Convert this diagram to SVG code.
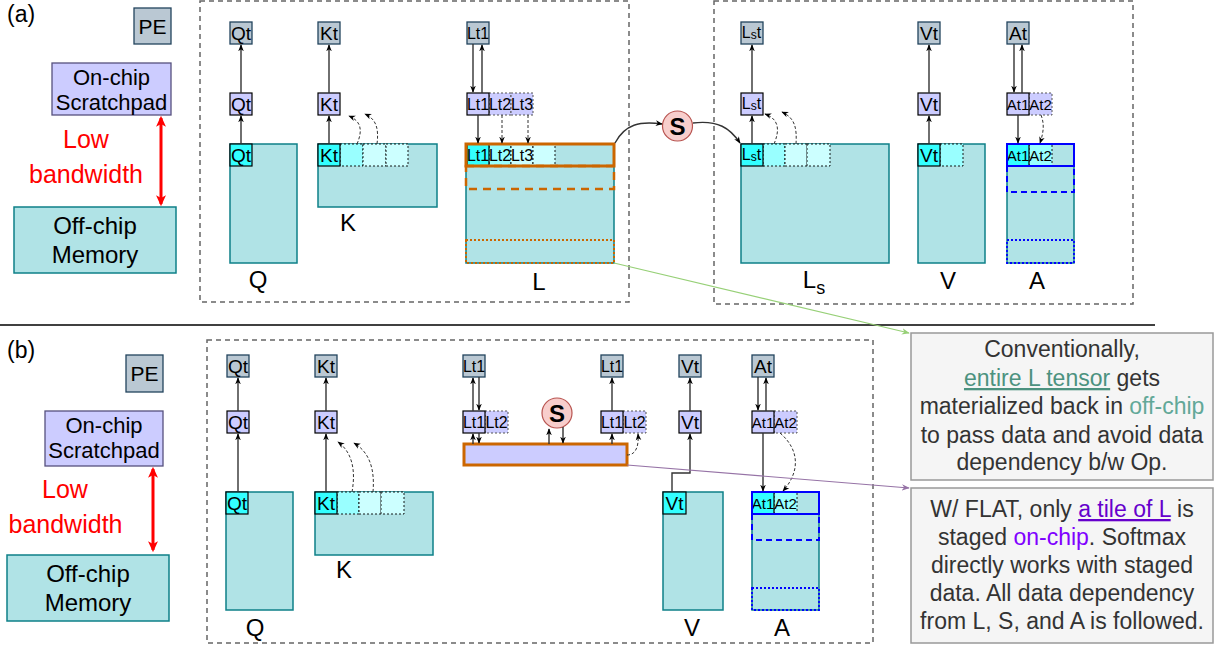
<svg xmlns="http://www.w3.org/2000/svg" width="1219" height="649" viewBox="0 0 1219 649">
<style>
text{font-family:"Liberation Sans",Arial,sans-serif;fill:#000}
.lbl{font-size:23px}
.big{font-size:24px;text-anchor:middle}
.mid{text-anchor:middle}
.tt{font-size:19px;text-anchor:middle;dominant-baseline:central}
.tl{font-size:16px;text-anchor:middle;dominant-baseline:central}
.ta{font-size:15px;text-anchor:middle;dominant-baseline:central}
.ls{font-size:16px;text-anchor:middle;dominant-baseline:central}
.box{fill:none;stroke:#666;stroke-width:1.5;stroke-dasharray:5 4}
.bt{fill:#b0e3e6;stroke:#0e8088;stroke-width:1.5}
.g{fill:#bac8d3;stroke:#23445d;stroke-width:1.3}
.p{fill:#ccccff;stroke:#000;stroke-width:1.2}
.pd{fill:#ccccff;stroke:#555;stroke-width:1;stroke-dasharray:2 2}
.c{fill:#33ffff;stroke:#000;stroke-width:1.2}
.c1{fill:#99ffff;stroke:#000;stroke-width:0.9;stroke-dasharray:2 2}
.c2{fill:#ccffff;stroke:#000;stroke-width:0.9;stroke-dasharray:2 2}
.ar{fill:none;stroke:#333;stroke-width:1.4;marker-end:url(#ah)}
.da{fill:none;stroke:#333;stroke-width:1;stroke-dasharray:3 2;marker-end:url(#ah)}
.red{fill:none;stroke:#ff0000;stroke-width:3;marker-start:url(#ahr);marker-end:url(#ahr)}
.rtxt{font-size:25px;fill:#ff0000;text-anchor:middle}
.os{fill:none;stroke:#cc6600;stroke-width:3}
.od{fill:none;stroke:#cc6600;stroke-width:2.5;stroke-dasharray:8 6}
.oo{fill:none;stroke:#cc6600;stroke-width:2;stroke-dasharray:2 2}
.bs{fill:none;stroke:#0000ff;stroke-width:2}
.bd{fill:none;stroke:#0000ff;stroke-width:2;stroke-dasharray:6 4}
.bo{fill:none;stroke:#0000ff;stroke-width:1.8;stroke-dasharray:2 2}
.sc{fill:#f8cecc;stroke:#b85450;stroke-width:1.2}
.st{font-size:24px;font-weight:bold;text-anchor:middle;dominant-baseline:central}
.note{fill:#f5f5f5;stroke:#999;stroke-width:1.5}
.nt{font-size:23px;fill:#333;text-anchor:middle}
</style>
<defs>
<marker id="ah" viewBox="0 0 10 10" refX="9" refY="5" markerWidth="7" markerHeight="7" markerUnits="userSpaceOnUse" orient="auto"><path d="M0,1 L10,5 L0,9 L3,5 z" fill="#000"/></marker>
<marker id="ahr" viewBox="0 0 10 10" refX="8" refY="5" markerWidth="11" markerHeight="11" markerUnits="userSpaceOnUse" orient="auto-start-reverse"><path d="M0,0.5 L10,5 L0,9.5 L2.5,5 z" fill="#ff0000"/></marker>
<marker id="ahg" viewBox="0 0 10 10" refX="9" refY="5" markerWidth="8" markerHeight="8" markerUnits="userSpaceOnUse" orient="auto"><path d="M0,1 L10,5 L0,9 L3,5 z" fill="#97d077"/></marker>
<marker id="ahp" viewBox="0 0 10 10" refX="9" refY="5" markerWidth="8" markerHeight="8" markerUnits="userSpaceOnUse" orient="auto"><path d="M0,1 L10,5 L0,9 L3,5 z" fill="#9673a6"/></marker>
</defs>

<!-- ================= (a) ================= -->
<g id="a-legend">
<text x="7" y="22" class="lbl">(a)</text>
<rect x="134" y="8" width="37" height="36" class="g"/>
<text x="152.5" y="26.5" class="tt" style="font-size:21px">PE</text>
<rect x="52" y="63" width="119" height="52" fill="#ccccff" stroke="#56517e" stroke-width="1.3"/>
<text x="111.5" y="85" class="mid" style="font-size:22px">On-chip</text>
<text x="111.5" y="110" class="mid" style="font-size:22px">Scratchpad</text>
<line x1="161" y1="118" x2="161" y2="204" class="red"/>
<text x="86" y="148" class="rtxt">Low</text>
<text x="86" y="183" class="rtxt">bandwidth</text>
<rect x="14" y="207" width="162" height="66" class="bt"/>
<text x="95" y="234" class="mid" style="font-size:24px">Off-chip</text>
<text x="95" y="263" class="mid" style="font-size:24px">Memory</text>
</g>

<g id="a-box1"><rect x="200" y="1" width="429" height="301" class="box"/></g>
<g id="a-box2"><rect x="714" y="1" width="419" height="303" class="box"/></g>

<g id="a-Q">
<rect x="230" y="144" width="67" height="119" class="bt"/>
<rect x="230" y="144" width="22" height="22" class="c"/><text x="241" y="155" class="tt">Qt</text>
<rect x="230" y="93" width="22" height="22" class="p"/><text x="241" y="104" class="tt">Qt</text>
<rect x="230" y="22" width="22" height="22" class="g"/><text x="241" y="33" class="tt">Qt</text>
<text x="258" y="288" class="big">Q</text>
</g>

<g id="a-K">
<rect x="318" y="144" width="119" height="63" class="bt"/>
<rect x="340" y="144" width="23" height="22" class="c1"/>
<rect x="363" y="144" width="23" height="22" class="c2"/>
<rect x="386" y="144" width="22" height="22" class="c2"/>
<rect x="318" y="144" width="22" height="22" class="c"/><text x="329" y="155" class="tt">Kt</text>
<rect x="318" y="93" width="22" height="22" class="p"/><text x="329" y="104" class="tt">Kt</text>
<rect x="318" y="22" width="22" height="22" class="g"/><text x="329" y="33" class="tt">Kt</text>
<text x="348" y="231" class="big">K</text>
</g>

<g id="a-L">
<rect x="466" y="144" width="148" height="119" class="bt"/>
<rect x="489" y="144" width="22" height="22" class="c1"/>
<rect x="511" y="144" width="22" height="22" class="c2"/>
<rect x="533" y="144" width="22" height="22" class="c2"/>
<rect x="467" y="144" width="22" height="22" class="c"/>
<text x="478" y="155" class="tl">Lt1</text><text x="500" y="155" class="tl">Lt2</text><text x="522" y="155" class="tl">Lt3</text>
<rect x="466" y="144" width="148" height="22" class="os"/>
<rect x="466" y="166" width="148" height="23" class="od"/>
<rect x="466" y="240" width="148" height="23" class="oo"/>
<rect x="489" y="93" width="22" height="22" class="pd"/>
<rect x="511" y="93" width="22" height="22" class="pd"/>
<rect x="467" y="93" width="22" height="22" class="p"/>
<text x="478" y="104" class="tl">Lt1</text><text x="500" y="104" class="tl">Lt2</text><text x="522" y="104" class="tl">Lt3</text>
<rect x="467" y="22" width="22" height="22" class="g"/><text x="478" y="33" class="tl">Lt1</text>
<text x="539" y="290" class="big">L</text>
</g>

<g id="a-S">
<circle cx="677.5" cy="126" r="15" class="sc"/>
<text x="677.5" y="126" class="st">S</text>
</g>

<g id="a-Ls">
<rect x="741" y="144" width="148" height="119" class="bt"/>
<rect x="763" y="144" width="22" height="22" class="c1"/>
<rect x="785" y="144" width="22" height="22" class="c2"/>
<rect x="807" y="144" width="23" height="22" class="c2"/>
<rect x="741" y="144" width="22" height="22" class="c"/>
<text x="751.5" y="154" class="ls">L<tspan style="font-size:12px" dy="3">s</tspan><tspan dy="-3">t</tspan></text>
<rect x="741" y="93" width="22" height="22" class="p"/>
<text x="751.5" y="103" class="ls">L<tspan style="font-size:12px" dy="3">s</tspan><tspan dy="-3">t</tspan></text>
<rect x="741" y="22" width="22" height="22" class="g"/>
<text x="751.5" y="32" class="ls">L<tspan style="font-size:12px" dy="3">s</tspan><tspan dy="-3">t</tspan></text>
<text x="814" y="288" class="big">L<tspan style="font-size:18px" dy="6">s</tspan></text>
</g>

<g id="a-V">
<rect x="918" y="144" width="67" height="119" class="bt"/>
<rect x="940" y="144" width="23" height="22" class="c1"/>
<rect x="918" y="144" width="22" height="22" class="c"/><text x="929" y="155" class="tt">Vt</text>
<rect x="918" y="93" width="22" height="22" class="p"/><text x="929" y="104" class="tt">Vt</text>
<rect x="918" y="22" width="22" height="22" class="g"/><text x="929" y="33" class="tt">Vt</text>
<text x="948" y="289" class="big">V</text>
</g>

<g id="a-A">
<rect x="1007" y="144" width="67" height="119" class="bt"/>
<rect x="1029" y="144" width="23" height="22" class="c1"/>
<rect x="1007" y="144" width="22" height="22" class="c"/>
<text x="1018" y="155" class="ta">At1</text><text x="1040.5" y="155" class="ta">At2</text>
<rect x="1007" y="144" width="67" height="22" class="bs"/>
<rect x="1007" y="166" width="67" height="26" class="bd"/>
<rect x="1007" y="240" width="67" height="23" class="bo"/>
<rect x="1029" y="93" width="23" height="22" class="pd"/>
<rect x="1007" y="93" width="22" height="22" class="p"/>
<text x="1018" y="104" class="ta">At1</text><text x="1040.5" y="104" class="ta">At2</text>
<rect x="1007" y="22" width="22" height="22" class="g"/><text x="1018" y="33" class="tt">At</text>
<text x="1037" y="289" class="big">A</text>
</g>

<g id="sep"><line x1="0" y1="325" x2="1155" y2="325" stroke="#000" stroke-width="1.5"/></g>

<!-- ================= (b) ================= -->
<g id="b-legend">
<text x="7" y="358" class="lbl">(b)</text>
<rect x="126" y="355" width="37" height="37" class="g"/>
<text x="144.5" y="373.5" class="tt" style="font-size:21px">PE</text>
<rect x="45" y="411" width="118" height="55" fill="#ccccff" stroke="#56517e" stroke-width="1.3"/>
<text x="104" y="433" class="mid" style="font-size:22px">On-chip</text>
<text x="104" y="458" class="mid" style="font-size:22px">Scratchpad</text>
<line x1="153" y1="469" x2="153" y2="550" class="red"/>
<text x="65" y="498" class="rtxt">Low</text>
<text x="65.5" y="533" class="rtxt">bandwidth</text>
<rect x="7" y="555" width="162" height="66" class="bt"/>
<text x="88" y="582" class="mid" style="font-size:24px">Off-chip</text>
<text x="88" y="611" class="mid" style="font-size:24px">Memory</text>
</g>

<g id="b-box"><rect x="207" y="340" width="666" height="303" class="box"/></g>

<g id="b-Q">
<rect x="226" y="492" width="67" height="118" class="bt"/>
<rect x="226" y="492" width="22" height="22" class="c"/><text x="237" y="503" class="tt">Qt</text>
<rect x="227" y="411" width="22" height="22" class="p"/><text x="238" y="422" class="tt">Qt</text>
<rect x="227" y="355" width="22" height="22" class="g"/><text x="238" y="366" class="tt">Qt</text>
<text x="255" y="636" class="big">Q</text>
</g>

<g id="b-K">
<rect x="315" y="492" width="118" height="63" class="bt"/>
<rect x="337" y="492" width="22" height="22" class="c1"/>
<rect x="359" y="492" width="22" height="22" class="c2"/>
<rect x="381" y="492" width="23" height="22" class="c2"/>
<rect x="315" y="492" width="22" height="22" class="c"/><text x="326" y="503" class="tt">Kt</text>
<rect x="315" y="411" width="22" height="22" class="p"/><text x="326" y="422" class="tt">Kt</text>
<rect x="315" y="355" width="22" height="22" class="g"/><text x="326" y="366" class="tt">Kt</text>
<text x="344" y="578" class="big">K</text>
</g>

<g id="b-Lstage">
<rect x="464" y="444" width="163" height="21" fill="#ccccff" stroke="#cc6600" stroke-width="3"/>
</g>

<g id="b-L1">
<rect x="485" y="411" width="23" height="22" class="pd"/>
<rect x="463" y="411" width="22" height="22" class="p"/>
<text x="474" y="422" class="tl">Lt1</text><text x="496.5" y="422" class="tl">Lt2</text>
<rect x="463" y="355" width="22" height="22" class="g"/><text x="474" y="366" class="tl">Lt1</text>
</g>

<g id="b-S">
<circle cx="557" cy="413" r="15" class="sc"/>
<text x="557" y="413" class="st">S</text>
</g>

<g id="b-L2">
<rect x="623" y="411" width="23" height="22" class="pd"/>
<rect x="601" y="411" width="22" height="22" class="p"/>
<text x="612" y="422" class="tl">Lt1</text><text x="634.5" y="422" class="tl">Lt2</text>
<rect x="601" y="355" width="22" height="22" class="g"/><text x="612" y="366" class="tl">Lt1</text>
</g>

<g id="b-V">
<rect x="663" y="492" width="60" height="118" class="bt"/>
<rect x="663" y="492" width="23" height="22" class="c"/><text x="674.5" y="503" class="tt">Vt</text>
<rect x="679" y="411" width="22" height="22" class="p"/><text x="690" y="422" class="tt">Vt</text>
<rect x="679" y="355" width="22" height="22" class="g"/><text x="690" y="366" class="tt">Vt</text>
<text x="692" y="636" class="big">V</text>
</g>

<g id="b-A">
<rect x="752" y="492" width="67" height="118" class="bt"/>
<rect x="774" y="492" width="23" height="22" class="c1"/>
<rect x="752" y="492" width="22" height="22" class="c"/>
<text x="763" y="503" class="ta">At1</text><text x="785.5" y="503" class="ta">At2</text>
<rect x="752" y="492" width="67" height="22" class="bs"/>
<rect x="752" y="514" width="67" height="26" class="bd"/>
<rect x="752" y="588" width="67" height="22" class="bo"/>
<rect x="774" y="411" width="23" height="22" class="pd"/>
<rect x="752" y="411" width="22" height="22" class="p"/>
<text x="763" y="422" class="ta">At1</text><text x="785.5" y="422" class="ta">At2</text>
<rect x="752" y="355" width="22" height="22" class="g"/><text x="763" y="366" class="tt">At</text>
<text x="782" y="636" class="big">A</text>
</g>

<!-- ================= notes ================= -->
<g id="note1">
<rect x="911" y="333" width="302" height="147" class="note"/>
<text x="1062" y="357" class="nt">Conventionally,</text>
<text x="1062" y="386" class="nt"><tspan fill="#4c927f" text-decoration="underline">entire L tensor</tspan> gets</text>
<text x="1062" y="414" class="nt">materialized back in <tspan fill="#62a898">off-chip</tspan></text>
<text x="1062" y="443" class="nt">to pass data and avoid data</text>
<text x="1062" y="470" class="nt">dependency b/w Op.</text>
</g>
<g id="note2">
<rect x="911" y="488" width="302" height="155" class="note"/>
<text x="1062" y="517" class="nt">W/ FLAT, only <tspan fill="#6600cc" text-decoration="underline">a tile of L</tspan> is</text>
<text x="1062" y="545" class="nt">staged <tspan fill="#7f00ff">on-chip</tspan>. Softmax</text>
<text x="1062" y="573" class="nt">directly works with staged</text>
<text x="1062" y="601" class="nt">data. All data dependency</text>
<text x="1062" y="629" class="nt">from L, S, and A is followed.</text>
</g>

<!-- ================= connectors ================= -->
<g id="connectors">
<line x1="241" y1="144" x2="241" y2="116" class="ar"/>
<line x1="241" y1="93" x2="241" y2="45" class="ar"/>
<line x1="329" y1="144" x2="329" y2="116" class="ar"/>
<line x1="329" y1="93" x2="329" y2="45" class="ar"/>
<path d="M357,144 C363,130 361,121 349,116" class="da"/>
<path d="M377,144 C379,128 376,119 365,114" class="da"/>
<line x1="473" y1="44" x2="473" y2="92" class="ar"/>
<line x1="482" y1="93" x2="482" y2="45" class="ar"/>
<line x1="478" y1="115" x2="478" y2="143" class="ar"/>
<line x1="502" y1="115" x2="502" y2="143" class="da"/>
<line x1="528" y1="115" x2="528" y2="143" class="da"/>
<path d="M615,143 C625,124 640,121 662,124" class="ar"/>
<path d="M693,123 C718,120 730,128 740,143" class="ar"/>
<line x1="752" y1="144" x2="752" y2="116" class="ar"/>
<line x1="752" y1="93" x2="752" y2="45" class="ar"/>
<path d="M774,144 C780,130 779,119 765,114" class="da"/>
<path d="M796,144 C797,128 795,118 782,112" class="da"/>
<line x1="929" y1="144" x2="929" y2="116" class="ar"/>
<line x1="929" y1="93" x2="929" y2="45" class="ar"/>
<line x1="1014" y1="44" x2="1014" y2="92" class="ar"/>
<line x1="1022" y1="93" x2="1022" y2="45" class="ar"/>
<line x1="1018" y1="115" x2="1018" y2="143" class="ar"/>
<path d="M1041,115 C1045,125 1043,134 1040,143" class="da"/>
<line x1="238" y1="492" x2="238" y2="434" class="ar"/>
<line x1="238" y1="411" x2="238" y2="378" class="ar"/>
<line x1="326" y1="492" x2="326" y2="434" class="ar"/>
<line x1="326" y1="411" x2="326" y2="378" class="ar"/>
<path d="M352,492 C356,470 352,452 338,442" class="da"/>
<path d="M373,492 C375,468 369,452 354,443" class="da"/>
<line x1="473" y1="411" x2="473" y2="378" class="ar"/>
<line x1="479" y1="377" x2="479" y2="410" class="ar"/>
<line x1="473" y1="444" x2="473" y2="434" class="ar"/>
<line x1="479" y1="433" x2="479" y2="443" class="ar"/>
<line x1="549" y1="444" x2="549" y2="429" class="ar"/>
<line x1="563" y1="427" x2="563" y2="443" class="ar"/>
<line x1="612" y1="444" x2="612" y2="434" class="ar"/>
<line x1="612" y1="411" x2="612" y2="378" class="ar"/>
<path d="M627,455 C636,455 639,446 638,434" class="da"/>
<path d="M672,492 L672,473 L690,473 L690,434" class="ar"/>
<line x1="690" y1="411" x2="690" y2="378" class="ar"/>
<line x1="758" y1="377" x2="758" y2="410" class="ar"/>
<line x1="766" y1="411" x2="766" y2="378" class="ar"/>
<line x1="763" y1="433" x2="763" y2="491" class="ar"/>
<path d="M780,433 C800,450 800,472 783,491" class="da"/>
<line x1="614" y1="263" x2="909" y2="333" stroke="#97d077" stroke-width="1.2" marker-end="url(#ahg)"/>
<line x1="627" y1="465" x2="909" y2="488" stroke="#9673a6" stroke-width="1.2" marker-end="url(#ahp)"/>
</g>
</svg>
